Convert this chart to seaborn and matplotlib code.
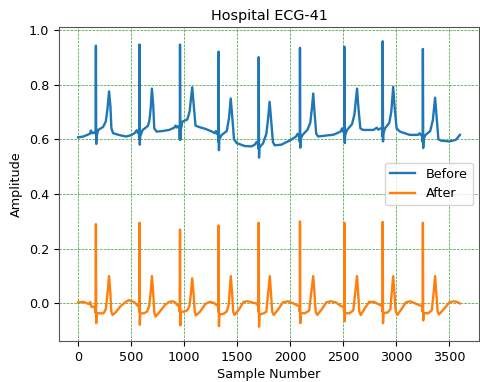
import numpy as np
import pandas as pd
import matplotlib
matplotlib.use('Agg')
import matplotlib.pyplot as plt
import seaborn as sns

# Vertices of the "Before" trace (sample, amplitude)
before_x = [0, 50, 112, 121, 134, 155, 165, 168, 171, 174, 190, 236, 261, 277, 292, 305, 314, 330,
            392, 454, 500, 532, 553, 563, 574, 577, 579, 582, 585, 609, 656, 671, 684, 696, 709, 718,
            740, 796, 858, 905, 920, 930, 945, 957, 959, 961, 964, 967, 982, 1029, 1051, 1076, 1091,
            1107, 1138, 1200, 1262, 1290, 1300, 1310, 1321, 1323, 1325, 1328, 1331, 1355, 1402, 1424,
            1439, 1452, 1470, 1495, 1573, 1635, 1666, 1682, 1698, 1701, 1703, 1706, 1709, 1744, 1775,
            1790, 1806, 1818, 1837, 1853, 1915, 2008, 2055, 2070, 2080, 2088, 2090, 2092, 2095, 2098,
            2117, 2163, 2189, 2204, 2217, 2229, 2245, 2263, 2412, 2474, 2490, 2499, 2508, 2510, 2512,
            2515, 2518, 2536, 2583, 2605, 2630, 2642, 2661, 2686, 2785, 2816, 2832, 2853, 2868, 2870,
            2872, 2875, 2878, 2894, 2934, 2953, 2971, 2984, 3003, 3034, 3127, 3205, 3220, 3233, 3247,
            3249, 3251, 3254, 3257, 3276, 3320, 3345, 3366, 3379, 3397, 3422, 3500, 3562, 3600]
before_y = [0.607, 0.610, 0.620, 0.632, 0.622, 0.625, 0.620, 0.942, 0.583, 0.610, 0.634, 0.645, 0.665,
            0.710, 0.775, 0.720, 0.640, 0.622, 0.615, 0.610, 0.615, 0.622, 0.633, 0.624, 0.625, 0.600,
            0.946, 0.580, 0.610, 0.634, 0.648, 0.665, 0.710, 0.785, 0.720, 0.640, 0.628, 0.630, 0.634,
            0.642, 0.650, 0.643, 0.648, 0.645, 0.600, 0.946, 0.598, 0.630, 0.664, 0.672, 0.700, 0.790,
            0.720, 0.650, 0.645, 0.638, 0.628, 0.622, 0.630, 0.620, 0.615, 0.590, 0.920, 0.560, 0.600,
            0.616, 0.630, 0.680, 0.749, 0.690, 0.600, 0.586, 0.575, 0.574, 0.580, 0.590, 0.580, 0.565,
            0.900, 0.533, 0.570, 0.585, 0.620, 0.670, 0.737, 0.680, 0.590, 0.578, 0.580, 0.598, 0.610,
            0.620, 0.612, 0.610, 0.590, 0.934, 0.569, 0.600, 0.616, 0.635, 0.660, 0.710, 0.767, 0.700,
            0.620, 0.610, 0.617, 0.628, 0.640, 0.628, 0.625, 0.600, 0.938, 0.586, 0.615, 0.634, 0.655,
            0.690, 0.785, 0.720, 0.640, 0.634, 0.634, 0.642, 0.635, 0.640, 0.640, 0.610, 0.958, 0.592,
            0.620, 0.640, 0.660, 0.700, 0.791, 0.720, 0.640, 0.628, 0.616, 0.616, 0.622, 0.615, 0.612,
            0.590, 0.930, 0.568, 0.600, 0.616, 0.630, 0.670, 0.752, 0.690, 0.600, 0.595, 0.592, 0.598,
            0.616]

# Vertices of the "After" trace
after_x = [0, 50, 100, 115, 125, 150, 160, 165, 168, 171, 174, 200, 240, 262, 278, 292, 304, 313, 325,
           360, 400, 450, 480, 510, 540, 560, 572, 576, 579, 582, 586, 620, 650, 670, 684, 696, 708,
           718, 730, 770, 820, 860, 890, 915, 940, 955, 958, 961, 964, 968, 1000, 1030, 1050, 1062,
           1076, 1090, 1100, 1110, 1150, 1200, 1240, 1280, 1300, 1318, 1322, 1325, 1328, 1332, 1370,
           1400, 1420, 1428, 1440, 1452, 1462, 1475, 1520, 1560, 1600, 1640, 1680, 1697, 1700, 1703,
           1706, 1710, 1750, 1775, 1790, 1808, 1820, 1830, 1845, 1890, 1930, 1980, 2030, 2070, 2088,
           2090, 2092, 2095, 2099, 2140, 2180, 2195, 2217, 2230, 2240, 2255, 2300, 2340, 2380, 2430,
           2480, 2505, 2508, 2511, 2514, 2518, 2560, 2595, 2610, 2630, 2642, 2652, 2665, 2700, 2745,
           2790, 2830, 2860, 2868, 2870, 2872, 2875, 2879, 2920, 2945, 2955, 2971, 2984, 2995, 3010,
           3050, 3090, 3130, 3180, 3230, 3246, 3249, 3251, 3254, 3258, 3300, 3335, 3350, 3366, 3379,
           3390, 3403, 3450, 3500, 3540, 3570, 3600]
after_y = [0.004, 0.006, -0.002, 0.005, -0.012, -0.012, -0.020, -0.035, 0.290, -0.072, -0.035, -0.036,
           -0.036, -0.020, 0.040, 0.100, 0.040, -0.030, -0.042, -0.030, -0.010, 0.006, 0.012, 0.008,
           0.002, -0.008, -0.010, -0.030, 0.295, -0.078, -0.036, -0.036, -0.030, -0.010, 0.040, 0.100,
           0.040, -0.030, -0.048, -0.030, -0.005, 0.006, 0.008, 0.004, -0.008, -0.010, -0.030, 0.270,
           -0.080, -0.030, -0.030, -0.025, -0.010, 0.030, 0.092, 0.030, -0.030, -0.044, -0.030, -0.002,
           0.006, 0.002, -0.004, -0.008, -0.030, 0.285, -0.083, -0.040, -0.038, -0.030, -0.005, 0.040,
           0.100, 0.040, -0.030, -0.042, -0.020, 0.006, 0.008, 0.004, 0.000, -0.008, -0.030, 0.295,
           -0.085, -0.040, -0.036, -0.030, 0.030, 0.100, 0.030, -0.030, -0.042, -0.020, 0.004, 0.008,
           0.000, -0.008, -0.010, -0.030, 0.300, -0.072, -0.035, -0.036, -0.025, 0.030, 0.100, 0.030,
           -0.030, -0.042, -0.020, 0.004, 0.008, 0.004, -0.010, -0.012, -0.030, 0.295, -0.065, -0.035,
           -0.036, -0.025, 0.030, 0.100, 0.030, -0.030, -0.042, -0.020, 0.006, 0.006, -0.002, -0.008,
           -0.010, -0.030, 0.298, -0.072, -0.035, -0.033, -0.020, 0.030, 0.100, 0.030, -0.030, -0.042,
           -0.020, 0.004, 0.008, 0.000, -0.008, -0.010, -0.030, 0.295, -0.062, -0.035, -0.036, -0.025,
           0.030, 0.100, 0.030, -0.030, -0.040, -0.020, 0.004, 0.008, 0.006, 0.000]

plt.rcParams['font.size'] = 9.2

fig = plt.figure(figsize=(4.8, 3.82), dpi=100)
ax = fig.add_axes([59 / 480, 1 - 341 / 382, 420 / 480, 314 / 382])

sns.lineplot(x=before_x, y=before_y, label='Before', ax=ax, sort=False, estimator=None, linewidth=1.7)
sns.lineplot(x=after_x, y=after_y, label='After', ax=ax, sort=False, estimator=None, linewidth=1.7)

ax.set_title('Hospital ECG-41', fontsize=10.4, pad=5)
ax.set_xlabel('Sample Number', labelpad=3)
ax.set_ylabel('Amplitude')
ax.set_xticks([0, 500, 1000, 1500, 2000, 2500, 3000, 3500])
ax.set_yticks([0.0, 0.2, 0.4, 0.6, 0.8, 1.0])
ax.grid(True, color='green', linestyle='--', linewidth=0.5, alpha=0.8)
ax.legend(loc='center right')
for s in ax.spines.values():
    s.set_color('#555555')

plt.savefig('out.png', dpi=100)
plt.close()
